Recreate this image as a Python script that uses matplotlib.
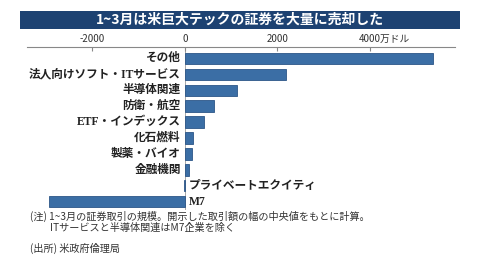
import matplotlib
matplotlib.use("Agg")
import matplotlib.pyplot as plt
from matplotlib.patches import Rectangle
from matplotlib.transforms import ScaledTranslation

categories = ["その他", "法人向けソフト・ITサービス", "半導体関連", "防衛・航空",
              "ETF・インデックス", "化石燃料", "製薬・バイオ", "金融機関",
              "プライベートエクイティ", "M7"]
values = [5370, 2180, 1120, 630, 410, 170, 160, 80, -30, -2950]
tick_values = [-2000, 0, 2000, 4000]
tick_labels = ["-2000", "0", "2000", "4000万ドル"]
title = "1~3月は米巨大テックの証券を大量に売却した"
notes = ["(注) 1~3月の証券取引の規模。開示した取引額の幅の中央値をもとに計算。",
         "ITサービスと半導体関連はM7企業を除く",
         "(出所) 米政府倫理局"]

plt.rcParams['font.family'] = ['Noto Sans CJK JP', 'DejaVu Sans']

fig = plt.figure(figsize=(4.8, 2.56), dpi=100)
fig.patch.set_facecolor("white")

# title bar
fig.patches.append(Rectangle((20/480, 1-29/256), 440/480, 18/256,
                             transform=fig.transFigure, facecolor="#1d4272",
                             edgecolor="none", zorder=0))
fig.text(240/480, 1-20/256, title, color="white", fontsize=10, fontweight="bold",
         ha="center", va="center")

ax = fig.add_axes([27/480, 1-210/256, 428/480, 163/256])
ypos = list(range(len(categories)))
ax.barh(ypos, values, height=0.71, color="#3b6ea5", edgecolor="#2c5687", linewidth=0.6)
ax.set_xlim(-3416, 5838)
ax.set_ylim(9.52, -0.71)

ax.xaxis.tick_top()
ax.set_xticks(tick_values)
ax.set_xticklabels(tick_labels, fontsize=7, color="#333333")
ax.tick_params(axis="x", direction="in", length=3, color="#888888", pad=2)
last = ax.get_xticklabels()[-1]
last.set_ha("left")
last.set_transform(last.get_transform() + ScaledTranslation(-11/100, 0, fig.dpi_scale_trans))
ax.tick_params(axis="y", left=False, labelleft=False)
for s in ["bottom", "left", "right"]:
    ax.spines[s].set_visible(False)
ax.spines["top"].set_color("#888888")
ax.spines["top"].set_linewidth(0.8)
ax.axvline(0, color="#999999", linewidth=0.6, zorder=0)

label_family = ['Liberation Serif', 'Noto Sans CJK JP']
for y, c, v in zip(ypos, categories, values):
    if v >= 0:
        ax.annotate(c, xy=(0, y), xytext=(-3, 0), textcoords="offset points",
                    ha="right", va="center", fontsize=8.4, fontweight="bold",
                    family=label_family, color="#222222")
    else:
        ax.annotate(c, xy=(0, y), xytext=(3, 0), textcoords="offset points",
                    ha="left", va="center", fontsize=8.4, fontweight="bold",
                    family=label_family, color="#222222")

fig.text(30/480, 1-216/256, notes[0], fontsize=7.3, color="#333333", va="center")
fig.text(50/480, 1-228/256, notes[1], fontsize=7.3, color="#333333", va="center")
fig.text(30/480, 1-248/256, notes[2], fontsize=7.3, color="#333333", va="center")

fig.savefig("out.png", dpi=100)
